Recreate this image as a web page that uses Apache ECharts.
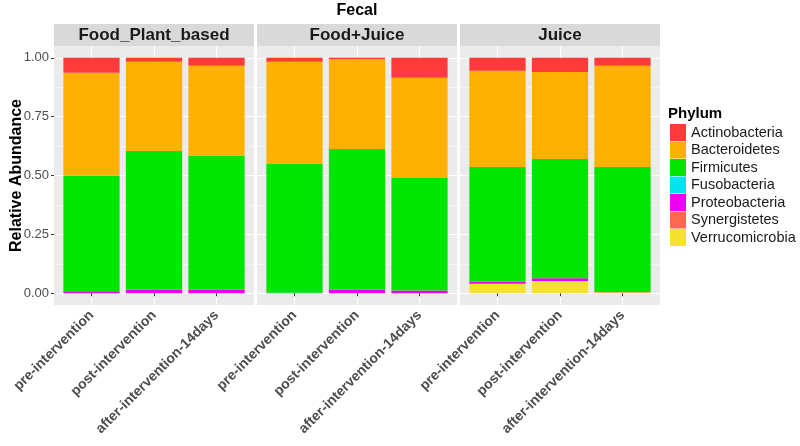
<!DOCTYPE html>
<html>
<head>
<meta charset="utf-8">
<script src="https://cdn.jsdelivr.net/npm/echarts@6/dist/echarts.min.js"></script>
<style>html,body{margin:0;padding:0;background:#fff}#c{width:800px;height:446px}</style>
</head>
<body>
<div id="c"></div>
<script>
const categories = ['pre-intervention', 'post-intervention', 'after-intervention-14days'];
const groups = ['Food_Plant_based', 'Food+Juice', 'Juice'];
const phyla = ['Actinobacteria', 'Bacteroidetes', 'Firmicutes', 'Fusobacteria', 'Proteobacteria', 'Synergistetes', 'Verrucomicrobia'];
const yTicks = [0, 0.25, 0.5, 0.75, 1];
const yMinorTicks = [0.125, 0.375, 0.625, 0.875];
// values ordered: group1 (3 timepoints), group2, group3
const actinobacteria  = [0.064, 0.017, 0.034, 0.017, 0.005, 0.085, 0.055, 0.060, 0.034];
const bacteroidetes   = [0.436, 0.379, 0.381, 0.434, 0.382, 0.426, 0.409, 0.370, 0.430];
const firmicutes      = [0.492, 0.589, 0.570, 0.547, 0.598, 0.477, 0.486, 0.506, 0.531];
const fusobacteria    = [0, 0, 0, 0, 0, 0, 0, 0, 0];
const proteobacteria  = [0.008, 0.015, 0.015, 0.002, 0.015, 0.012, 0.010, 0.012, 0.001];
const synergistetes   = [0, 0, 0, 0, 0, 0, 0, 0, 0];
const verrucomicrobia = [0, 0, 0, 0, 0, 0, 0.040, 0.052, 0.004];

const values = {
  Actinobacteria: actinobacteria, Bacteroidetes: bacteroidetes, Firmicutes: firmicutes,
  Fusobacteria: fusobacteria, Proteobacteria: proteobacteria, Synergistetes: synergistetes,
  Verrucomicrobia: verrucomicrobia
};
const colors = {
  Actinobacteria: '#FF3A3A', Bacteroidetes: '#FFB000', Firmicutes: '#00E600',
  Fusobacteria: '#00E5EE', Proteobacteria: '#F000F0', Synergistetes: '#FF6A4D',
  Verrucomicrobia: '#F5E22E'
};

const panelLeft = [54, 257, 460];
const panelW = 200, panelTop = 46, panelBottom = 141;
const FONT = 'Liberation Sans, Arial, sans-serif';

const grid = [], xAxis = [], yAxis = [], series = [], graphic = [];
groups.forEach((g, gi) => {
  const bg = gi * 2, dg = gi * 2 + 1;
  // background panel grid
  grid.push({left: panelLeft[gi], top: panelTop, width: panelW, bottom: panelBottom,
    show: true, backgroundColor: '#EBEBEB', borderWidth: 0});
  // data grid (inset by ggplot's discrete expansion 0.6 vs 0.5 units)
  grid.push({left: panelLeft[gi] + panelW * 0.1 / 3.2, top: panelTop, width: panelW * 3 / 3.2, bottom: panelBottom,
    show: false});

  xAxis.push({
    type: 'value', gridIndex: bg, min: 0.4, max: 3.6,
    axisLine: {show: false},
    axisTick: {show: false, customValues: [1, 2, 3]},
    axisLabel: {show: false, customValues: [1, 2, 3]},
    splitLine: {show: true, lineStyle: {color: '#FFFFFF', width: 1.1}}
  });
  xAxis.push({
    type: 'category', gridIndex: dg, data: categories,
    axisLine: {show: false},
    axisTick: {show: true, alignWithLabel: true, length: 3, lineStyle: {color: '#333', width: 1}},
    axisLabel: {show: true, rotate: 45, margin: 8, interval: 0,
      color: '#4D4D4D', fontWeight: 'bold', fontSize: 14, fontFamily: FONT},
    splitLine: {show: false}
  });
  // background y axis: major gridlines + labels (first panel)
  yAxis.push({
    type: 'value', gridIndex: bg, min: -0.05, max: 1.05, position: 'left',
    name: gi === 0 ? 'Relative Abundance' : '', nameLocation: 'middle', nameGap: 29,
    nameMoveOverlap: false,
    nameTextStyle: {fontWeight: 'bold', fontSize: 16, color: '#000', fontFamily: FONT},
    axisLine: {show: false},
    axisTick: {show: gi === 0, length: 3, lineStyle: {color: '#333'}, customValues: yTicks},
    axisLabel: {show: gi === 0, customValues: yTicks, formatter: v => v.toFixed(2),
      color: '#4D4D4D', fontSize: 13, margin: 5, fontFamily: FONT},
    splitLine: {show: true, lineStyle: {color: '#FFFFFF', width: 1.1}}
  });
  // background minor gridlines
  yAxis.push({
    type: 'value', gridIndex: bg, min: -0.05, max: 1.05, position: 'right',
    axisLine: {show: false},
    axisTick: {show: false, customValues: yMinorTicks},
    axisLabel: {show: false, customValues: yMinorTicks},
    splitLine: {show: true, lineStyle: {color: '#FFFFFF', width: 0.5}}
  });
  // data y axis (hidden)
  yAxis.push({
    type: 'value', gridIndex: dg, min: -0.05, max: 1.05, show: false
  });
  // stacking bottom -> top : reverse of legend order
  phyla.slice().reverse().forEach(p => {
    series.push({
      name: p, type: 'bar', xAxisIndex: dg, yAxisIndex: gi * 3 + 2, stack: 'g' + gi,
      barWidth: '90%',
      itemStyle: {color: colors[p]},
      data: categories.map((c, ci) => values[p][gi * 3 + ci]),
      emphasis: {disabled: true}
    });
  });
  // strip header
  graphic.push({type: 'rect', left: panelLeft[gi], top: 24,
    shape: {width: panelW, height: 22}, style: {fill: '#D9D9D9'}, silent: true});
  graphic.push({type: 'text', x: panelLeft[gi] + panelW / 2, y: 35.5,
    style: {text: g, fill: '#1A1A1A', font: 'bold 17px ' + FONT, textAlign: 'center', textVerticalAlign: 'middle'}});
});

graphic.push({type: 'text', x: 357, y: 11,
  style: {text: 'Fecal', fill: '#000', font: 'bold 16px ' + FONT, textAlign: 'center', textVerticalAlign: 'middle'}});
graphic.push({type: 'text', x: 668, y: 114,
  style: {text: 'Phylum', fill: '#000', font: 'bold 15px ' + FONT, textAlign: 'left', textVerticalAlign: 'middle'}});

const option = {
  animation: false,
  backgroundColor: '#FFFFFF',
  grid, xAxis, yAxis, series, graphic,
  legend: {
    orient: 'vertical', left: 670, top: 124, padding: 0,
    data: phyla, itemWidth: 16, itemHeight: 17, itemGap: 0.5,
    icon: 'rect', selectedMode: false,
    textStyle: {fontSize: 14.5, color: '#1A1A1A', fontFamily: FONT},
    itemStyle: {borderWidth: 0}
  }
};
const chart = echarts.init(document.getElementById('c'), null, {renderer: 'canvas'});
chart.setOption(option);
</script>
</body>
</html>
